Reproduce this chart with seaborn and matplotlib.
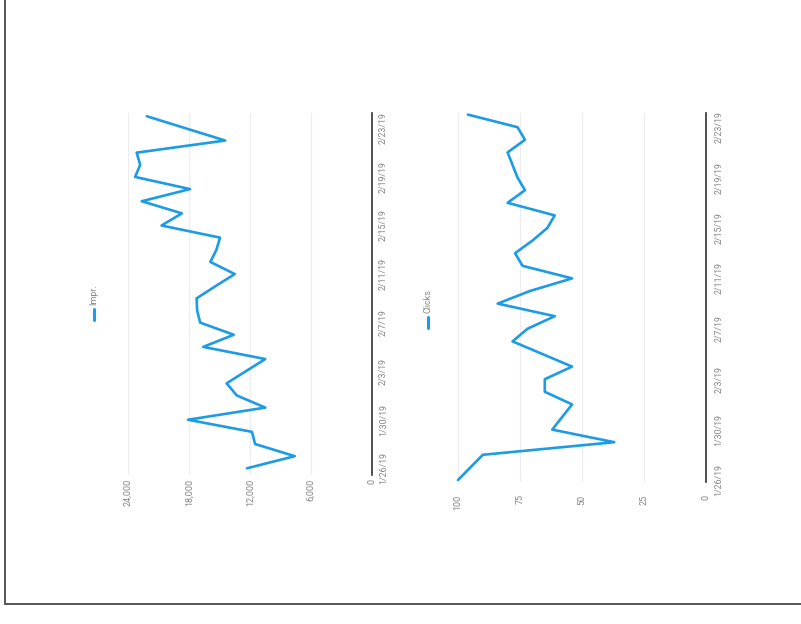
import matplotlib.pyplot as plt
import pandas as pd
import seaborn as sns
from matplotlib.lines import Line2D

# scanned page, charts are rotated 90 degrees
W, H = 801, 624

days = list(range(30))  # 1/26/19 .. 2/24/19
date_ticks = [0, 4, 8, 12, 16, 20, 24, 28]
date_labels = ["1/26/19", "1/30/19", "2/3/19", "2/7/19", "2/11/19", "2/15/19", "2/19/19", "2/23/19"]

impr = [12300, 7600, 11500, 11800, 18100, 10500, 13300, 14300, 12400, 10500,
        16600, 13600, 16900, 17200, 17250, 15400, 13500, 15900, 15300, 14950,
        20700, 18700, 22650, 17900, 23300, 22800, 23150, 14450, 18300, 22150]
impr_ticks = [0, 6000, 12000, 18000, 24000]

clicks = [100, 95, 90, 37, 62, 58, 54, 65, 65, 54,
          66, 78, 72, 61, 84, 71, 54, 74, 77, 70,
          64, 61, 80, 73, 76, 78, 80, 73, 76, 96]
clicks_ticks = [0, 25, 50, 75, 100]

BLUE = "#1d9be3"
GREY = "#858585"

sns.set_style("white")
plt.rcParams["font.family"] = ["Roboto", "DejaVu Sans"]

fig = plt.figure(figsize=(W / 100, H / 100), dpi=100)


def px_rect(x0, y0, x1, y1):
    return [x0 / W, 1 - y1 / H, (x1 - x0) / W, (y1 - y0) / H]


def px(x, y):
    return x / W, 1 - y / H


def rotated_chart(rect, values, vmax, ticks, ylim, fmt, xpad, ypad):
    ax = fig.add_axes(px_rect(*rect))
    sns.lineplot(x=values, y=days, orient="y", ax=ax, color=BLUE,
                 linewidth=1.9, clip_on=False)
    ax.set_xlim(vmax, 0)
    ax.set_ylim(*ylim)
    ax.set_xticks(ticks)
    ax.set_xticklabels([fmt(t) for t in ticks], rotation=90)
    ax.set_yticks(date_ticks)
    ax.set_yticklabels(date_labels, rotation=90, va="center")
    ax.yaxis.tick_right()
    ax.tick_params(axis="x", length=0, pad=xpad, labelsize=6.5, labelcolor=GREY)
    ax.tick_params(axis="y", length=0, pad=ypad, labelsize=6.3, labelcolor=GREY)
    ax.grid(axis="x", color="#ececf1", linewidth=0.8)
    for side in ["top", "left", "bottom"]:
        ax.spines[side].set_visible(False)
    ax.spines["right"].set_color("#333333")
    ax.spines["right"].set_linewidth(1.2)
    ax.set_xlabel("")
    ax.set_ylabel("")
    return ax


# impressions: k0 at y=468, 12.14 px per day
rotated_chart((128, 113, 372, 475), impr, 24000, impr_ticks,
              ((468.3 - 475) / 12.14, (468.3 - 113) / 12.14),
              lambda t: f"{t:,}", 3, 5)

# clicks: k0 at y=480, 12.6 px per day
rotated_chart((458, 113, 706, 482), clicks, 100, clicks_ticks,
              ((480 - 482) / 12.6, (480 - 113) / 12.6),
              lambda t: f"{t}", 9, 6)

# legends
for x, y0, y1, name in [(94, 309, 320, "Impr."), (428, 317, 328, "Clicks")]:
    fig.add_artist(Line2D([px(x, y0)[0], px(x, y1)[0]], [px(x, y0)[1], px(x, y1)[1]],
                          color=BLUE, linewidth=2.2, transform=fig.transFigure))
    tx, ty = px(x, y0 - 4)
    fig.text(tx, ty, name, rotation=90, ha="center", va="bottom",
             fontsize=6.5, color=GREY)

# page frame
fig.add_artist(Line2D([px(5, 0)[0], px(5, 604)[0]], [px(5, 0)[1], px(5, 604)[1]],
                      color="#555555", linewidth=1.4, transform=fig.transFigure))
fig.add_artist(Line2D([px(5, 604)[0], px(801, 604)[0]], [px(5, 604)[1], px(801, 604)[1]],
                      color="#555555", linewidth=1.4, transform=fig.transFigure))

plt.savefig("out.png", dpi=100)
